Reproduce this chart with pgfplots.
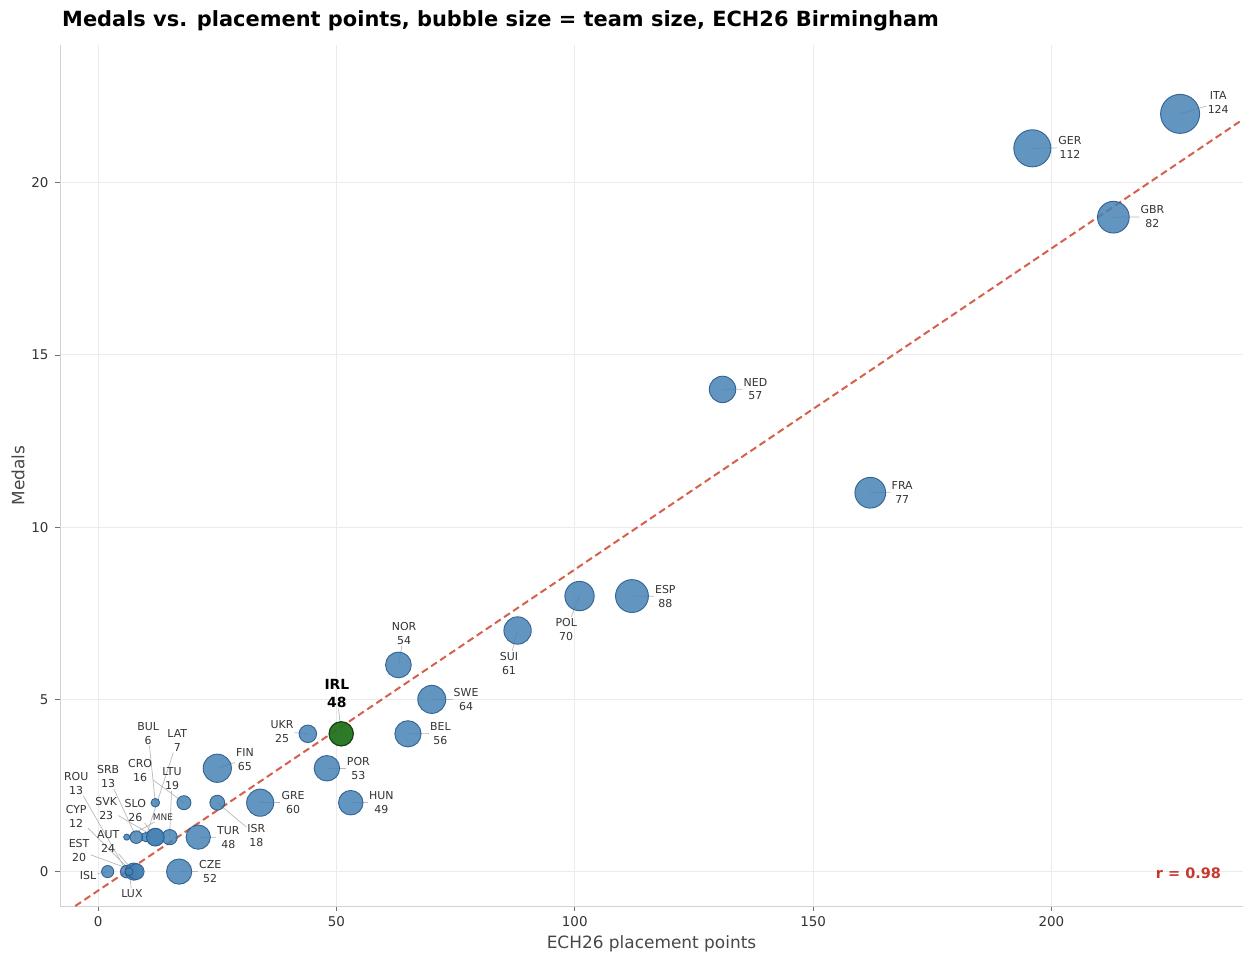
\documentclass[border=0pt]{standalone}
\usepackage{fontspec}
\setmainfont{DejaVu Sans}
\usepackage{pgfplots}
\pgfplotsset{compat=1.18}
\usepackage{pgfplotstable}
\definecolor{bfill}{RGB}{70,130,180}
\definecolor{bedge}{RGB}{40,90,140}
\definecolor{gfill}{RGB}{34,115,28}
\definecolor{gedge}{RGB}{15,60,15}
\definecolor{regred}{RGB}{214,96,77}
\definecolor{rred}{RGB}{200,55,45}
\definecolor{txt}{RGB}{51,51,51}
\definecolor{gridc}{RGB}{235,235,235}
\definecolor{spine}{RGB}{210,210,210}
\definecolor{conn}{RGB}{185,185,185}

\pgfplotstableread{
x y s
227 22 124
196 21 112
213 19 82
131 14 57
162 11 77
112 8 88
101 8 70
88 7 61
63 6 54
70 5 64
65 4 56
44 4 25
48 3 53
53 2 49
25 3 65
34 2 60
25 2 18
21 1 48
17 0 52
12 2 6
18 2 16
15 1 19
10 1 7
12 1 23
12 1 26
8 1 13
6 1 3
6 0 13
7 0 12
7.5 0 24
8 0 20
6.5 0 5
2 0 12
}\blue
\pgfplotstableread{
x y s
51 4 48
}\green

\tikzset{
  lab/.style={align=center, text=txt, inner sep=1bp, font=\fontsize{11}{14}\selectfont},
  cn/.style={draw=conn, line width=0.7bp},
}
\newcommand{\lab}[6]{%
  \node[lab] (n#1) at (axis cs:#2,#3) {#6};
  \draw[cn] (n#1) -- (axis cs:#4,#5);
}

\begin{document}
\begin{tikzpicture}
\begin{axis}[
  name=ax,
  scale only axis,
  width=1183bp, height=861bp,
  xmin=-8, xmax=240.2, ymin=-1.0, ymax=24.0,
  xtick={0,50,100,150,200}, ytick={0,5,10,15,20},
  axis x line*=bottom, axis y line*=left,
  axis line style={draw=spine, line width=1bp},
  grid=major,
  major grid style={draw=gridc, line width=1bp},
  tick align=outside,
  major tick length=5bp,
  tick style={draw=txt!70, line width=0.8bp},
  /pgf/number format/assume math mode=true,
  ticklabel style={font=\fontsize{13.5}{15}\selectfont, text=txt},
  xticklabel style={yshift=-2bp},
  yticklabel style={xshift=-3bp},
  title={Medals vs. placement points, bubble size = team size, ECH26 Birmingham},
  title style={at={(axis description cs:0,1)}, anchor=base west, xshift=2bp, yshift=13bp, font=\fontsize{21}{24}\selectfont\bfseries, text=black, inner sep=0pt},
  xlabel={ECH26 placement points},
  xlabel style={at={(axis description cs:0.5,0)}, anchor=base, yshift=-42bp, font=\fontsize{17}{19}\selectfont, text=txt!90, inner sep=0pt},
  ylabel={Medals},
  ylabel style={at={(axis description cs:0,0.5)}, anchor=center, yshift=42bp, font=\fontsize{17}{19}\selectfont, text=txt!90, inner sep=0pt},
  clip=false,
]
% labels and connectors
\lab{ITA}{235.0}{22.33}{227}{22}{ITA\\124}
\lab{GER}{203.9}{21.02}{196}{21}{GER\\112}
\lab{GBR}{221.2}{19.01}{213}{19}{GBR\\82}
\lab{NED}{137.9}{14.01}{131}{14}{NED\\57}
\lab{FRA}{168.7}{11.02}{162}{11}{FRA\\77}
\lab{ESP}{119.0}{7.99}{112}{8}{ESP\\88}
\lab{POL}{98.2}{7.03}{101}{8}{POL\\70}
\lab{SUI}{86.2}{6.05}{88}{7}{SUI\\61}
\lab{NOR}{64.2}{6.92}{63}{6}{NOR\\54}
\lab{SWE}{77.2}{5.0}{70}{5}{SWE\\64}
\lab{BEL}{71.8}{4.01}{65}{4}{BEL\\56}
\lab{UKR}{38.6}{4.07}{44}{4}{UKR\\25}
\lab{POR}{54.6}{2.99}{48}{3}{POR\\53}
\lab{HUN}{59.4}{2.0}{53}{2}{HUN\\49}
\lab{FIN}{30.8}{3.26}{25}{3}{FIN\\65}
\lab{GRE}{40.9}{2.0}{34}{2}{GRE\\60}
\lab{ISR}{33.2}{1.05}{25}{2}{ISR\\18}
\lab{TUR}{27.3}{0.99}{21}{1}{TUR\\48}
\lab{CZE}{23.5}{0}{17}{0}{CZE\\52}
\lab{BUL}{10.5}{4.01}{12}{2}{BUL\\6}
\lab{LAT}{16.6}{3.81}{10}{1}{LAT\\7}
\lab{CRO}{8.8}{2.94}{18}{2}{CRO\\16}
\lab{LTU}{15.5}{2.70}{15}{1}{LTU\\19}
\lab{SRB}{2.1}{2.76}{8}{1}{SRB\\13}
\lab{SVK}{1.7}{1.83}{12}{1}{SVK\\23}
\lab{SLO}{7.8}{1.77}{12}{1}{SLO\\26}
\node[lab, font=\fontsize{9}{11}\selectfont] (nMNE) at (axis cs:13.6,1.57) {MNE};
\draw[cn] (nMNE) -- (axis cs:6,1);
\lab{ROU}{-4.6}{2.56}{6}{0}{ROU\\13}
\lab{CYP}{-4.6}{1.60}{7}{0}{CYP\\12}
\lab{AUT}{2.1}{0.87}{7.5}{0}{AUT\\24}
\lab{EST}{-4.0}{0.61}{8}{0}{EST\\20}
\lab{ISL}{-2.1}{-0.12}{2}{0}{ISL}
\lab{LUX}{7.1}{-0.64}{6.5}{0}{LUX}
\node[lab, font=\fontsize{14}{18}\selectfont\bfseries, text=black] (nIRL) at (axis cs:50.1,5.17) {IRL\\48};
\draw[cn] (nIRL) -- (axis cs:51,4);
% bubbles
\addplot[scatter, only marks, mark=*,
  scatter/use mapped color={draw=bedge, fill=bfill},
  visualization depends on={\thisrow{s} \as \sz},
  scatter/@pre marker code/.append style={/tikz/mark size={1.76*sqrt(\sz)}},
  mark options={fill opacity=0.85, draw opacity=0.9, line width=0.9bp}]
  table[x=x, y=y] {\blue};
\addplot[scatter, only marks, mark=*,
  scatter/use mapped color={draw=gedge, fill=gfill},
  visualization depends on={\thisrow{s} \as \sz},
  scatter/@pre marker code/.append style={/tikz/mark size={1.76*sqrt(\sz)}},
  mark options={fill opacity=0.95, draw opacity=0.95, line width=1.2bp}]
  table[x=x, y=y] {\green};
% regression line
\addplot[regred, line width=2bp, dash pattern=on 7bp off 4bp] coordinates {(-4.8,-1.0) (240.2,21.84)};
\node[anchor=base east, text=rred, font=\fontsize{14.5}{16}\selectfont\bfseries] at (axis cs:236.3,-0.2) {r = 0.98};
\end{axis}
\pgfresetboundingbox
\path (ax.south west) ++(-60bp,-57bp) coordinate (bl);
\path (ax.north east) ++(7bp,45bp) coordinate (tr);
\path[use as bounding box] (bl) rectangle (tr);
\end{tikzpicture}
\end{document}
